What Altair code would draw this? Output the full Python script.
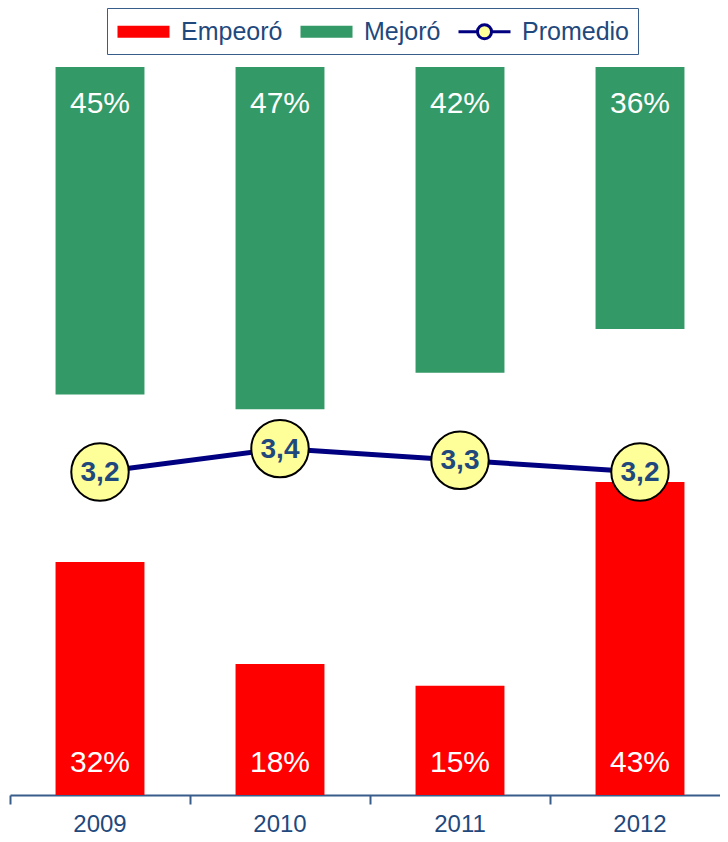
import altair as alt
import pandas as pd

years = ["2009", "2010", "2011", "2012"]
empeoro = [32, 18, 15, 43]
mejoro = [45, 47, 42, 36]
promedio = [3.2, 3.4, 3.3, 3.2]

series = ["Empeoró", "Mejoró", "Promedio"]
series_fill = ["#FF0000", "#339966", "#FFFF99"]
series_stroke = ["transparent", "transparent", "#000080"]

df = pd.DataFrame({"year": years, "emp": empeoro, "mej": mejoro, "prom": promedio})
leg_df = pd.DataFrame({"serie": series})

FONT = "Liberation Sans"
pct = alt.Scale(domain=[0, 100])
avg = alt.Scale(domain=[0.45, 6.65])

PATH_R = "M-1,-0.46H3V0.46H-1Z"
PATH_P = "M-1,0H0.46M1.54,0H3M0.46,0A0.54 0.54 0 1 1 1.54 0A0.54 0.54 0 1 1 0.46 0Z"

legend = alt.Legend(
    title=None, orient="none", legendX=97, legendY=-59, direction="horizontal",
    labelFont=FONT, labelFontSize=25, labelColor="#1F497D",
    symbolSize=676, symbolStrokeWidth=3, symbolOpacity=1,
    labelOffset=36, columnPadding=11, padding=9,
    strokeColor="#385D8A",
)

x = alt.X(
    "year:N", title=None, sort=years,
    scale=alt.Scale(paddingInner=0, paddingOuter=0, range=[0, 720]),
    axis=alt.Axis(
        bandPosition=0, labelAngle=0, labelFont=FONT,
        labelFontSize=24, labelColor="#1F497D", labelPadding=8,
        domainColor="#385D8A", domainWidth=2, tickColor="#385D8A",
        tickWidth=2, tickSize=9, grid=False,
    ),
)

base = alt.Chart(df).encode(x=x)
bw = alt.RelativeBandSize(0.494)

red = base.mark_bar(width=bw, color="#FF0000").encode(
    y=alt.Y("emp:Q", scale=pct, axis=None),
)

green = base.mark_bar(width=bw, color="#339966").transform_calculate(
    lo="100 - datum.mej", hi="100"
).encode(
    y=alt.Y("lo:Q", scale=pct, axis=None),
    y2="hi:Q",
)

red_lbl = base.mark_text(
    color="white", fontSize=30, font=FONT, baseline="alphabetic", dy=-23
).transform_calculate(zero="0", lbl="datum.emp + '%'").encode(
    y=alt.Y("zero:Q", scale=pct, axis=None), text="lbl:N"
)

green_lbl = base.mark_text(
    color="white", fontSize=30, font=FONT, baseline="alphabetic", dy=46
).transform_calculate(top="100", lbl="datum.mej + '%'").encode(
    y=alt.Y("top:Q", scale=pct, axis=None), text="lbl:N"
)

line = base.mark_line(strokeWidth=5, color="#000080").encode(
    y=alt.Y("prom:Q", scale=avg, axis=None),
)

points = base.mark_point(
    shape="circle", size=3300, filled=True, fill="#FFFF99",
    stroke="#000000", strokeWidth=2, opacity=1
).encode(y=alt.Y("prom:Q", scale=avg, axis=None))

avg_lbl = base.mark_text(
    fontSize=28, fontWeight="bold", font=FONT, color="#1F497D", baseline="middle", dy=1
).transform_calculate(lbl="replace(format(datum.prom, '.1f'), '.', ',')").encode(
    y=alt.Y("prom:Q", scale=avg, axis=None), text="lbl:N"
)

leg = alt.Chart(leg_df).mark_point(filled=True, opacity=0).encode(
    shape=alt.Shape("serie:N", scale=alt.Scale(domain=series, range=[PATH_R, PATH_R, PATH_P]), legend=legend),
    fill=alt.Fill("serie:N", scale=alt.Scale(domain=series, range=series_fill), legend=legend),
    stroke=alt.Stroke("serie:N", scale=alt.Scale(domain=series, range=series_stroke), legend=legend),
)

chart = alt.layer(
    red, green, red_lbl, green_lbl, line, points, avg_lbl, leg
).resolve_scale(y="independent").properties(
    width=710, height=728,
    padding={"left": 2, "top": 59, "right": 0, "bottom": 50},
    autosize="none",
).configure(background="white").configure_view(stroke=None)

chart.save("out.html", embed_options={"renderer": "svg", "actions": False})
